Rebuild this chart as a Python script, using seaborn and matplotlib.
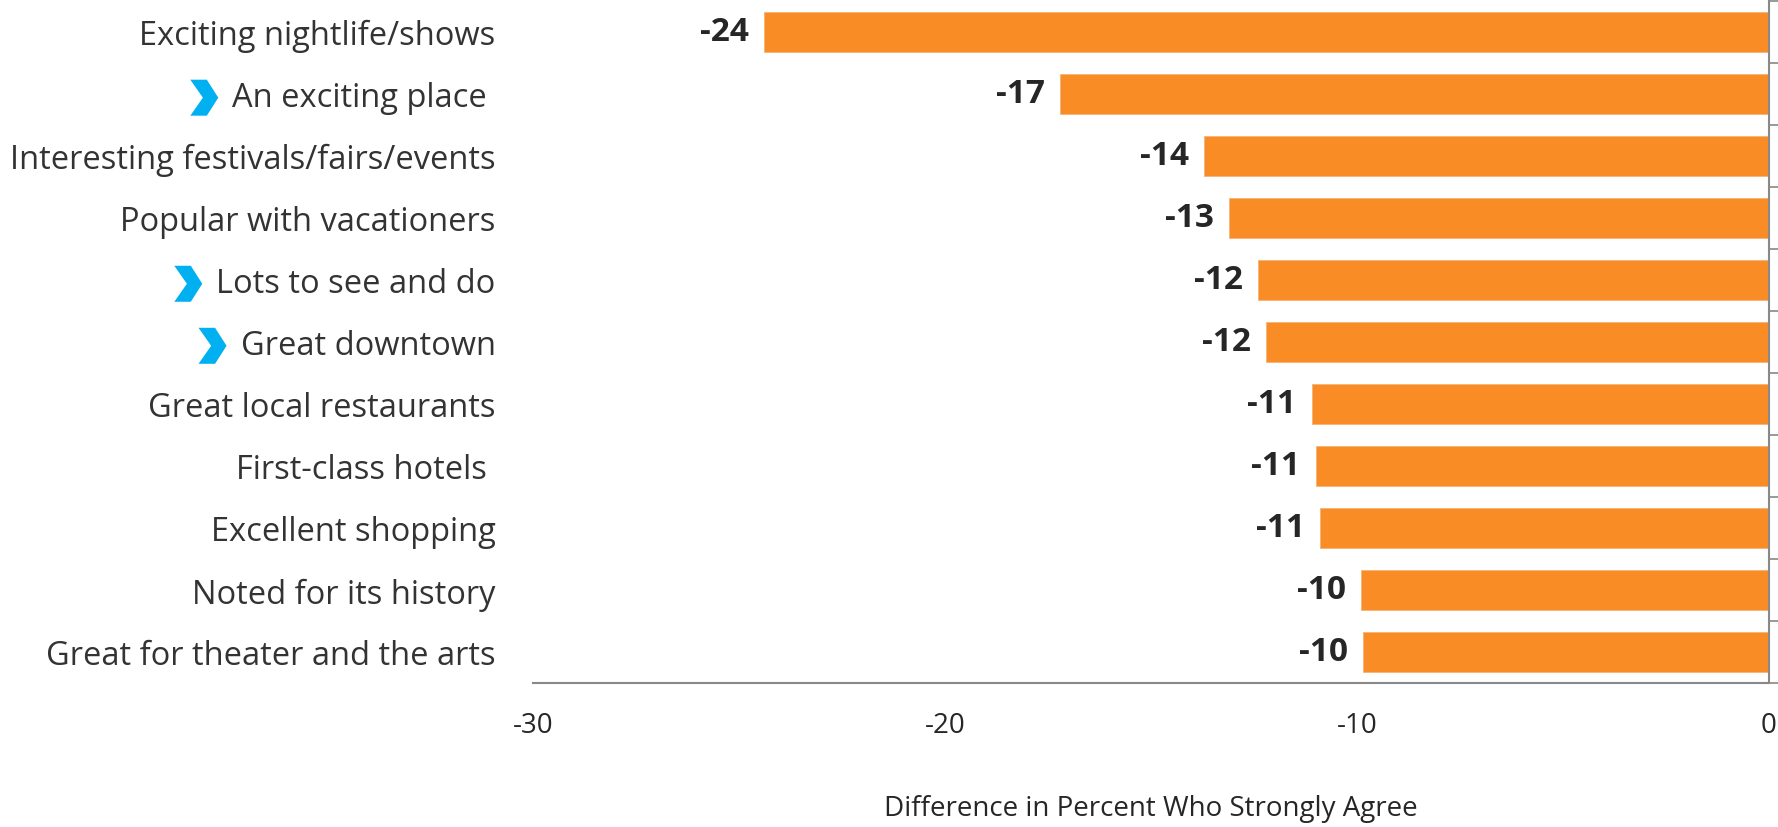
import matplotlib
matplotlib.use('Agg')
import matplotlib.pyplot as plt
import seaborn as sns
import numpy as np
from matplotlib.ticker import FixedLocator
from matplotlib.patches import Polygon

# dados
categories = ['Exciting nightlife/shows', 'An exciting place ', 'Interesting festivals/fairs/events',
              'Popular with vacationers', 'Lots to see and do', 'Great downtown',
              'Great local restaurants', 'First-class hotels ', 'Excellent shopping',
              'Noted for its history', 'Great for theater and the arts']
values = [-24.4, -17.2, -13.7, -13.1, -12.4, -12.2, -11.1, -11.0, -10.9, -9.9, -9.85]
value_labels = ['-24', '-17', '-14', '-13', '-12', '-12', '-11', '-11', '-11', '-10', '-10']
flagged = ['An exciting place ', 'Lots to see and do', 'Great downtown']
x_ticks = [-30, -20, -10, 0]

sns.set_style('white')
plt.rcParams['font.family'] = ['Open Sans', 'DejaVu Sans']

fig = plt.figure(figsize=(17.78, 8.28), dpi=100)
ax = fig.add_axes([0.2998, 0.174, 0.695, 0.824])

sns.barplot(x=values, y=categories, orient='h', color='#FA8C25', saturation=1,
            width=0.65, edgecolor='#F5B37A', linewidth=0.6, ax=ax)

ax.bar_label(ax.containers[0], labels=value_labels, padding=11,
             fontsize=24, fontweight='bold', color='#262626')

ax.set_xlim(-30, 0)
ax.set_ylim(10.5, -0.5)
ax.set_xticks(x_ticks)
ax.set_xticklabels([str(t) for t in x_ticks], fontsize=20, color='#262626')
ax.tick_params(axis='x', direction='out', length=8, width=1.2, color='#888888', pad=12)

ax.tick_params(axis='y', which='major', length=0, pad=27, labelsize=23.5, labelcolor='#333333')
ax.yaxis.set_minor_locator(FixedLocator(np.arange(-0.5, 11, 1)))
ax.tick_params(axis='y', which='minor', left=False, right=True, direction='out',
               length=8, width=1.2, color='#888888')

for side in ['top', 'left']:
    ax.spines[side].set_visible(False)
for side in ['bottom', 'right']:
    ax.spines[side].set_color('#888888')
    ax.spines[side].set_linewidth(1.5)

ax.set_xlabel('Difference in Percent Who Strongly Agree', fontsize=20, color='#262626', labelpad=40)
ax.set_ylabel('')

# setas azuis antes de alguns rótulos
fig.canvas.draw()
W, H = fig.bbox.width, fig.bbox.height
for lab in ax.get_yticklabels():
    if lab.get_text() in flagged:
        bb = lab.get_window_extent()
        cy = (bb.y0 + bb.y1) / 2
        right = bb.x0 - 14
        w, h = 28, 36
        left = right - w
        pts = [(left, cy + h / 2), (left + 0.59 * w, cy + h / 2), (right, cy),
               (left + 0.59 * w, cy - h / 2), (left, cy - h / 2), (left + 0.45 * w, cy)]
        pts = [(px / W, py / H) for px, py in pts]
        fig.add_artist(Polygon(pts, closed=True, transform=fig.transFigure,
                               facecolor='#00B0F0', edgecolor='none'))

fig.savefig('out.png', dpi=100)
